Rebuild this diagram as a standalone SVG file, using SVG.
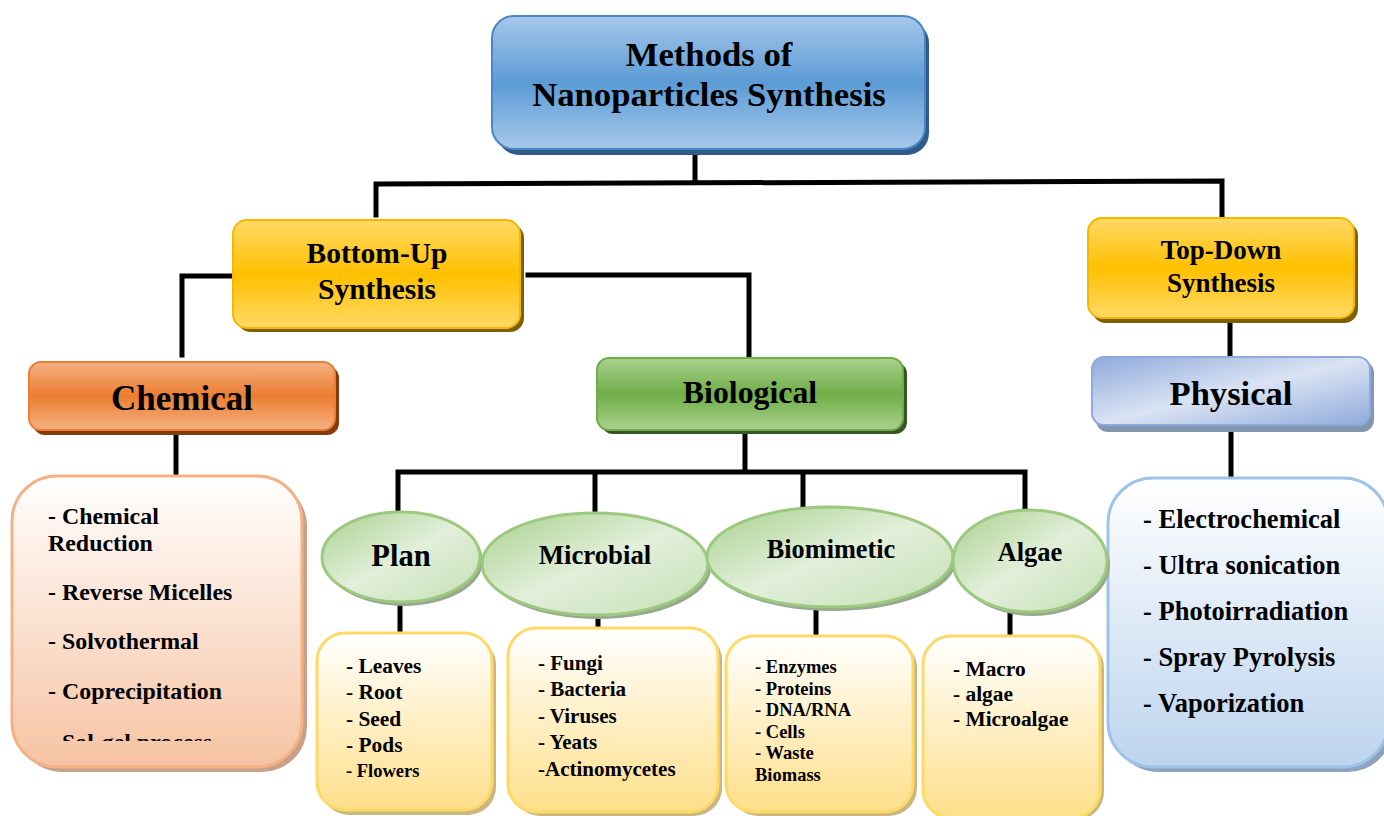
<svg xmlns="http://www.w3.org/2000/svg" width="1384" height="816" viewBox="0 0 1384 816">
<defs>
<linearGradient id="gBlue" x1="0" y1="0" x2="0" y2="1"><stop offset="0" stop-color="#a7c8ea"/><stop offset="0.5" stop-color="#5b9bd5"/><stop offset="1" stop-color="#a7c8ea"/></linearGradient>
<linearGradient id="gYel" x1="0" y1="0" x2="0" y2="1"><stop offset="0" stop-color="#ffd966"/><stop offset="0.5" stop-color="#ffc000"/><stop offset="1" stop-color="#ffd966"/></linearGradient>
<linearGradient id="gOr" x1="0" y1="0" x2="0" y2="1"><stop offset="0" stop-color="#f4b183"/><stop offset="0.5" stop-color="#ed7d31"/><stop offset="1" stop-color="#f4b183"/></linearGradient>
<linearGradient id="gGr" x1="0" y1="0" x2="0" y2="1"><stop offset="0" stop-color="#a9d18e"/><stop offset="0.5" stop-color="#70ad47"/><stop offset="1" stop-color="#a9d18e"/></linearGradient>
<linearGradient id="gPh" x1="0" y1="0" x2="1" y2="1"><stop offset="0" stop-color="#8faadc"/><stop offset="0.5" stop-color="#dae3f3"/><stop offset="1" stop-color="#8faadc"/></linearGradient>
<linearGradient id="gPeach" x1="0" y1="0" x2="0" y2="1"><stop offset="0" stop-color="#ffffff"/><stop offset="1" stop-color="#f6c3a3"/></linearGradient>
<linearGradient id="gCream" x1="0" y1="0" x2="0" y2="1"><stop offset="0" stop-color="#ffffff"/><stop offset="1" stop-color="#ffdf8a"/></linearGradient>
<linearGradient id="gSky" x1="0" y1="0" x2="0" y2="1"><stop offset="0" stop-color="#ffffff"/><stop offset="1" stop-color="#bdd4ee"/></linearGradient>
<linearGradient id="gEll" x1="0" y1="0" x2="1" y2="1"><stop offset="0" stop-color="#a9d18e"/><stop offset="0.5" stop-color="#e2efda"/><stop offset="1" stop-color="#c5e0b4"/></linearGradient>
<clipPath id="clipChem"><rect x="0" y="470" width="320" height="271"/></clipPath>
</defs>
<style>
text{font-family:"Liberation Serif","Times New Roman",serif;font-weight:bold;fill:#000}
.c{text-anchor:middle}
.ln{stroke:#000;stroke-width:5;fill:none;stroke-linecap:square}
.ell{fill:url(#gEll);stroke:#9bc97f;stroke-width:3}
.ellsh{fill:#9aa88f}
.cream{fill:url(#gCream);stroke:#ffd966;stroke-width:3}
.creamsh{fill:#c9b682}
</style>
<rect width="1384" height="816" fill="#fff"/>
<g id="connectors">
<path class="ln" d="M695 150V183M376 215V184L1222 181V215"/>
<path class="ln" d="M232 276H182V355"/>
<path class="ln" d="M528 275H749V356"/>
<path class="ln" d="M176 436V473"/>
<path class="ln" d="M745 432V472M398 472H1025M398 472V518M595 472V512M803 472V505M1025 472V508"/>
<path class="ln" d="M1230 324V355M1231 434V476"/>
<path class="ln" d="M400 606V630M598 617V626M816 610V634M1010 614V634"/>
</g>
<g id="top">
<rect x="497" y="21" width="432" height="134" rx="22" fill="#2e5b8a"/>
<rect x="492" y="16" width="433" height="133" rx="22" fill="url(#gBlue)" stroke="#4a86c5" stroke-width="2"/>
<text class="c" x="709" y="66" font-size="34.7">Methods of</text>
<text class="c" x="709" y="106" font-size="34.7">Nanoparticles Synthesis</text>
</g>
<g id="bottomup">
<rect x="237" y="224" width="287" height="108" rx="14" fill="#7f6000"/>
<rect x="233" y="220" width="287" height="108" rx="14" fill="url(#gYel)" stroke="#f5b800" stroke-width="2"/>
<text class="c" x="377" y="263" font-size="29.5">Bottom-Up</text>
<text class="c" x="377" y="299" font-size="29.5">Synthesis</text>
</g>
<g id="topdown">
<rect x="1092" y="222" width="266" height="101" rx="14" fill="#7f6000"/>
<rect x="1088" y="218" width="266" height="100" rx="14" fill="url(#gYel)" stroke="#f5b800" stroke-width="2"/>
<text class="c" x="1221" y="259" font-size="27">Top-Down</text>
<text class="c" x="1221" y="292" font-size="27">Synthesis</text>
</g>
<g id="chemical">
<rect x="33" y="366" width="306" height="69" rx="12" fill="#843c0c"/>
<rect x="29" y="362" width="306" height="68" rx="12" fill="url(#gOr)" stroke="#ed7d31" stroke-width="2"/>
<text class="c" x="182" y="410" font-size="35">Chemical</text>
</g>
<g id="biological">
<rect x="601" y="362" width="306" height="72" rx="12" fill="#375623"/>
<rect x="597" y="358" width="306" height="72" rx="12" fill="url(#gGr)" stroke="#70ad47" stroke-width="2"/>
<text class="c" x="750" y="403" font-size="31.8">Biological</text>
</g>
<g id="physical">
<rect x="1096" y="361" width="278" height="71" rx="12" fill="#8497b0"/>
<rect x="1092" y="357" width="278" height="68" rx="12" fill="url(#gPh)" stroke="#8faadc" stroke-width="2"/>
<text class="c" x="1231" y="405" font-size="34.6">Physical</text>
</g>
<g id="chemical-list">
<rect x="17" y="481" width="290" height="291" rx="45" fill="#c9a08a"/>
<rect x="12" y="476" width="290" height="291" rx="45" fill="url(#gPeach)" stroke="#f4b183" stroke-width="3"/>
<g font-size="23.9">
<text x="48" y="524">- Chemical</text>
<text x="48" y="551">Reduction</text>
<text x="48" y="600">- Reverse Micelles</text>
<text x="48" y="649">- Solvothermal</text>
<text x="48" y="699">- Coprecipitation</text>
<text x="48" y="750" clip-path="url(#clipChem)">- Sol-gel process</text>
</g>
</g>
<g id="physical-list">
<rect x="1113" y="483" width="280" height="289" rx="45" fill="#8ea3bd"/>
<rect x="1108" y="478" width="280" height="289" rx="45" fill="url(#gSky)" stroke="#9dc3e6" stroke-width="3"/>
<g font-size="26.5">
<text x="1143" y="528">- Electrochemical</text>
<text x="1143" y="574">- Ultra sonication</text>
<text x="1143" y="620">- Photoirradiation</text>
<text x="1143" y="666">- Spray Pyrolysis</text>
<text x="1143" y="712">- Vaporization</text>
</g>
</g>
<g id="plan">
<ellipse class="ellsh" cx="404" cy="561" rx="79" ry="45"/>
<ellipse class="ell" cx="401" cy="557" rx="79" ry="45"/>
<text class="c" x="401" y="566" font-size="30.5">Plan</text>
</g>
<g id="microbial">
<ellipse class="ellsh" cx="598" cy="568" rx="113" ry="51"/>
<ellipse class="ell" cx="595" cy="564" rx="113" ry="51"/>
<text class="c" x="595" y="564" font-size="26.8">Microbial</text>
</g>
<g id="biomimetic">
<ellipse class="ellsh" cx="833" cy="561" rx="123" ry="50"/>
<ellipse class="ell" cx="830" cy="557" rx="123" ry="50"/>
<text class="c" x="831" y="558" font-size="26.3">Biomimetic</text>
</g>
<g id="algae">
<ellipse class="ellsh" cx="1033" cy="565" rx="77" ry="51"/>
<ellipse class="ell" cx="1030" cy="561" rx="77" ry="51"/>
<text class="c" x="1030" y="561" font-size="26.5">Algae</text>
</g>
<g id="plan-list">
<rect class="creamsh" x="321" y="637" width="175" height="178" rx="28"/>
<rect class="cream" x="317" y="633" width="175" height="177" rx="28"/>
<g font-size="21.4">
<text x="346" y="673">- Leaves</text>
<text x="346" y="699">- Root</text>
<text x="346" y="726">- Seed</text>
<text x="346" y="752">- Pods</text>
<text x="346" y="777" font-size="18.5">- Flowers</text>
</g>
</g>
<g id="microbial-list">
<rect class="creamsh" x="512" y="632" width="210" height="184" rx="28"/>
<rect class="cream" x="508" y="628" width="210" height="184" rx="28"/>
<g font-size="21">
<text x="538" y="670">- Fungi</text>
<text x="538" y="696">- Bacteria</text>
<text x="538" y="723">- Viruses</text>
<text x="538" y="749">- Yeats</text>
<text x="538" y="776">-Actinomycetes</text>
</g>
</g>
<g id="biomimetic-list">
<rect class="creamsh" x="730" y="640" width="187" height="176" rx="28"/>
<rect class="cream" x="726" y="636" width="187" height="176" rx="28"/>
<g font-size="18.5">
<text x="755" y="673">- Enzymes</text>
<text x="755" y="695">- Proteins</text>
<text x="755" y="716">- DNA/RNA</text>
<text x="755" y="738">- Cells</text>
<text x="755" y="759">- Waste</text>
<text x="755" y="781">Biomass</text>
</g>
</g>
<g id="algae-list">
<rect class="creamsh" x="927" y="640" width="177" height="180" rx="28"/>
<rect class="cream" x="923" y="636" width="177" height="182" rx="28"/>
<g font-size="21.4">
<text x="953" y="676">- Macro</text>
<text x="953" y="701">- algae</text>
<text x="953" y="726">- Microalgae</text>
</g>
</g>
</svg>
